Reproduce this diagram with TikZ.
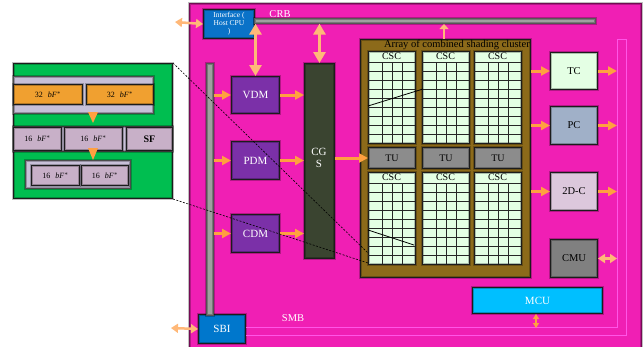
\documentclass[tikz,border=0pt]{standalone}
\usepackage{fontspec}
\setmainfont{Liberation Serif}
\usetikzlibrary{arrows.meta}
\definecolor{mag}{HTML}{F01FB4}
\definecolor{magdark}{HTML}{9A1070}
\definecolor{magline}{HTML}{FF55E8}
\definecolor{ifblue}{HTML}{0A72C8}
\definecolor{purp}{HTML}{7B30A8}
\definecolor{cgsc}{HTML}{3A4430}
\definecolor{brown}{HTML}{8C6A1A}
\definecolor{cscg}{HTML}{E4FFE4}
\definecolor{tug}{HTML}{8C8C8C}
\definecolor{arr}{HTML}{FFA040}
\definecolor{arrl}{HTML}{FFB878}
\definecolor{busg}{HTML}{A0A0A0}
\definecolor{insg}{HTML}{00BE50}
\definecolor{lav}{HTML}{C8C0D8}
\definecolor{pkg}{HTML}{C8B0C8}
\definecolor{orb}{HTML}{F0A030}
\definecolor{mcuc}{HTML}{00BFFF}
\definecolor{sbic}{HTML}{0077CC}
\definecolor{pcc}{HTML}{A0B0C8}
\definecolor{dcc}{HTML}{DCC8DC}
\definecolor{cmuc}{HTML}{808080}
\tikzset{
  box/.style={draw=black!85, line width=1pt, rectangle, inner sep=0pt, anchor=north west,
    postaction={draw=black, draw opacity=0.25, line width=3pt}},
  wtxt/.style={text=white, font=\fontsize{11}{12}\selectfont},
  btxt/.style={text=black, font=\fontsize{10.5}{11}\selectfont, inner sep=0pt},
  oarr/.style={draw=arr, line width=3pt, -{Triangle[width=9pt,length=9pt]}},
  darr/.style={draw=arrl, line width=3.5pt, {Triangle[width=12pt,length=11pt]}-{Triangle[width=12pt,length=11pt]}},
  sdarr/.style={draw=arrl, line width=2.5pt, {Triangle[width=9pt,length=7pt]}-{Triangle[width=9pt,length=7pt]}},
  gridl/.style={draw=black!85, line width=1pt},
  zl/.style={draw=black, line width=0.6pt, dashed, dash pattern=on 2pt off 1.5pt},
}
\begin{document}
\begin{tikzpicture}[x=1pt,y=-1pt]
\useasboundingbox (0,0) rectangle (643,346);
% main chip
\node[box, fill=mag, draw=magdark, line width=1.2pt, minimum width=452pt, minimum height=346pt] (chip) at (189,3) {};
% SBI and bus outline
\node[box, fill=sbic, minimum width=47pt, minimum height=29pt] (sbi) at (198,314) {};
\node[wtxt] at (sbi.center) {SBI};
\draw[magline, line width=1pt] (sbi.east|-0,327) -- (617,327) -- (617,39) -- (626,39) -- (626,335) -- (sbi.east|-0,335);
\node[text=white, font=\fontsize{10.5}{11}\selectfont] (smb) at (293,318) {SMB};
% interface and CRB
\node[box, fill=ifblue, minimum width=51pt, minimum height=29pt] (intf) at (203,9) {};
\node[text=white, font=\fontsize{7.5}{8}\selectfont, align=center, inner sep=0pt] at (intf.center) {Interface (\\Host CPU\\)};
\node[box, fill=busg, draw=black!55, line width=0.6pt, minimum width=341pt, minimum height=5pt] (crb) at (254,18) {};
\node[text=white, font=\fontsize{10.5}{11}\selectfont] (crbt) at (280,14) {CRB};
\coordinate (ifl) at (175,22);
\draw[sdarr] (ifl) -- (intf.west);
% left bus
\node[box, fill=busg, draw=busg!70!black, line width=0.5pt, minimum width=7pt, minimum height=252pt] (sbus) at (206,63) {};
\coordinate (sbil) at (171,328);
\draw[sdarr] (sbil) -- (sbi.west);
% DMs
\node[box, fill=purp, minimum width=48pt, minimum height=37pt] (vdm) at (231,76) {};
\node[wtxt] at (vdm.center) {VDM};
\node[box, fill=purp, minimum width=48pt, minimum height=38pt] (pdm) at (231,141) {};
\node[wtxt] at (pdm.center) {PDM};
\node[box, fill=purp, minimum width=48pt, minimum height=38pt] (cdm) at (231,214) {};
\node[wtxt] at (cdm.center) {CDM};
% CGS
\node[box, fill=cgsc, minimum width=30pt, minimum height=195pt] (cgs) at (304,63) {};
\node[wtxt, align=center, inner sep=0pt] at (319,158) {CG\\S};
% arrows from CRB
\draw[darr] (vdm.north|-crb.south) -- (vdm.north);
\draw[darr] (cgs.north|-crb.south) -- (cgs.north);
% bus to DMs
\draw[oarr] (sbus.east|-vdm.west) -- (vdm.west);
\draw[oarr] (sbus.east|-pdm.west) -- (pdm.west);
\draw[oarr] (sbus.east|-cdm.west) -- (cdm.west);
\draw[oarr] (vdm.east) -- (cgs.west|-vdm.east);
\draw[oarr] (pdm.east) -- (cgs.west|-pdm.east);
\draw[oarr] (cdm.east) -- (cgs.west|-cdm.east);
% array
\node[box, fill=brown, minimum width=170pt, minimum height=238pt] (arr) at (360,39) {};
\node[btxt, anchor=north east] (arrt) at (530,40) {Array of combined shading cluster};
\draw[sdarr, {Triangle[width=9pt,length=5pt]}-] (444,24) -- (arr.north-|444,0);
% CSC columns
\foreach \L/\n in {368/a,422/b,474/c}{
  \foreach \T/\m in {51/u,172/l}{
    \node[box, fill=cscg, minimum width=47pt, minimum height=92pt] (csc\n\m) at (\L,\T) {};
    \node[font=\fontsize{10}{10}\selectfont, inner sep=0pt] at (\L+23.5,\T+5.5) {CSC};
    \foreach \k in {0,...,8} {\draw[gridl] (\L,\T+11+\k*9) -- (\L+47,\T+11+\k*9);}
    \foreach \v in {14,24,34} {\draw[gridl] (\L+\v,\T+11) -- (\L+\v,\T+92);}
  }
  \node[box, fill=tug, minimum width=47pt, minimum height=21pt] (tu\n) at (\L,147) {};
  \node[font=\fontsize{10}{10}\selectfont, inner sep=0pt] at (tu\n.center) {TU};
}
\draw[oarr] (cgs.east|-tua.west) -- (tua.west);
% right boxes
\node[box, fill=cscg, minimum width=47pt, minimum height=37pt] (tc) at (550,52) {};
\node[btxt] at (tc.center) {TC};
\node[box, fill=pcc, minimum width=47pt, minimum height=38pt] (pc) at (550,106) {};
\node[btxt] at (pc.center) {PC};
\node[box, fill=dcc, minimum width=47pt, minimum height=38pt] (dc) at (550,172) {};
\node[btxt] at (dc.center) {2D-C};
\node[box, fill=cmuc, minimum width=47pt, minimum height=38pt] (cmu) at (550,239) {};
\node[btxt] at (cmu.center) {CMU};
\foreach \b in {tc,pc,dc}{
  \draw[oarr] (arr.east|-\b.west) -- (\b.west);
  \draw[oarr] (\b.east) -- (617,0|-\b.east);
}
\draw[sdarr] (cmu.east) -- (617,0|-cmu.east);
% MCU
\node[box, fill=mcuc, minimum width=130pt, minimum height=26pt] (mcu) at (472,287) {};
\node[wtxt] at (mcu.center) {MCU};
\draw[draw=arr, line width=2pt, {Triangle[width=6pt,length=5pt]}-{Triangle[width=6pt,length=5pt]}] (mcu.south-|536,0) -- (536,328);
% zoom lines inside CSC
\draw[black, line width=0.8pt] (cscau.west|-0,106) -- (423,89);
\draw[black, line width=0.8pt] (cscal.west|-0,230) -- (414,245);
% inset
\node[box, fill=insg, minimum width=159pt, minimum height=135pt] (ins) at (13,63) {};
\node[box, fill=lav, draw=black!60, minimum width=140pt, minimum height=37pt] (r1) at (13,76) {};
\node[box, fill=orb, minimum width=69pt, minimum height=20pt] (o1) at (13,84) {};
\node[box, fill=orb, minimum width=67pt, minimum height=20pt] (o2) at (86,84) {};
\node[box, fill=lav, draw=black!60, minimum width=159pt, minimum height=25pt] (r2) at (13,126) {};
\node[box, fill=pkg, minimum width=48pt, minimum height=23pt] (p1) at (13,127) {};
\node[box, fill=pkg, minimum width=58pt, minimum height=23pt] (p2) at (64,127) {};
\node[box, fill=pkg, minimum width=46pt, minimum height=23pt] (sf) at (126,127) {};
\node[box, fill=lav, draw=black!60, minimum width=105pt, minimum height=28pt] (r3) at (25,160) {};
\node[box, fill=pkg, minimum width=48pt, minimum height=20pt] (p3) at (31,165) {};
\node[box, fill=pkg, minimum width=47pt, minimum height=20pt] (p4) at (81,165) {};
\foreach \b in {p1,p2,p3,p4}{
  \node[font=\fontsize{8}{9}\selectfont, inner sep=0pt] at (\b.center) {16\hspace{5pt}\textit{bF}$^{*}$};
}
\foreach \b in {o1,o2}{
  \node[font=\fontsize{8}{9}\selectfont, inner sep=0pt] at (\b.center) {32\hspace{5pt}\textit{bF}$^{*}$};
}
\node[font=\bfseries\fontsize{10}{11}\selectfont, inner sep=0pt] at (sf.center) {SF};
\fill[arr] (88,112) -- (98,112) -- (93,123) -- cycle;
\fill[arr] (88,148) -- (98,148) -- (93,160) -- cycle;
% dashed zoom connectors
\draw[zl] (ins.north east) -- (cscal.west|-0,253);
\draw[zl] (ins.south east) -- (cscal.west|-0,263);
\end{tikzpicture}
\end{document}
